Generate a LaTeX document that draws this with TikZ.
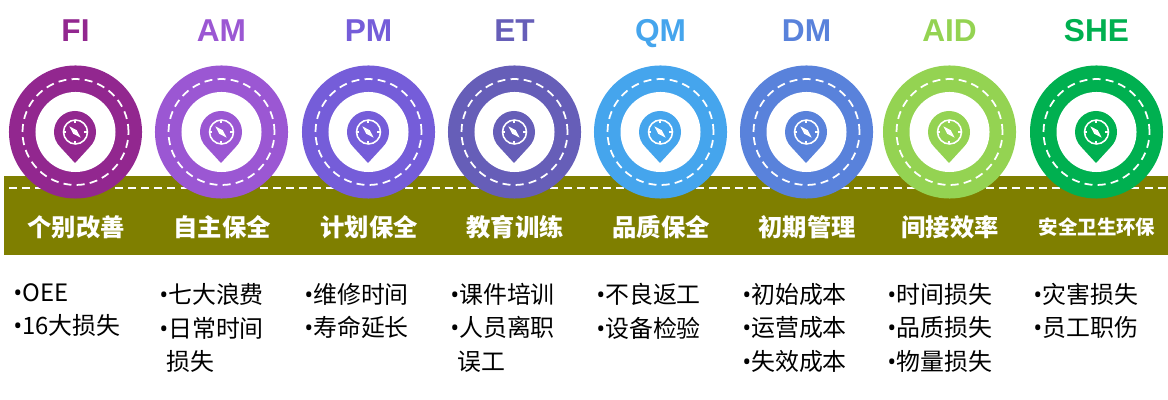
\documentclass[tikz,border=0pt]{standalone}
\usepackage{fontspec}
\setmainfont{Noto Sans CJK SC}
\newfontfamily\latinfont{Liberation Sans}
\newfontfamily\dotfont{Open Sans}
\newcommand{\li}{{\dotfont\fontsize{17}{17}\selectfont •}}
\newcommand{\ind}{\hspace*{0.19cm}}
\definecolor{fiC}{HTML}{92278F}
\definecolor{amC}{HTML}{9B57D3}
\definecolor{pmC}{HTML}{755DD9}
\definecolor{etC}{HTML}{665EB8}
\definecolor{qmC}{HTML}{45A5ED}
\definecolor{dmC}{HTML}{5982DB}
\definecolor{aidC}{HTML}{94D352}
\definecolor{sheC}{HTML}{00B050}
\definecolor{bandC}{HTML}{7F7F00}
\tikzset{
  ring/.style={circle, inner sep=0pt, minimum size=3.325cm},
  hole/.style={circle, inner sep=0pt, minimum size=2.0cm, fill=white},
  title/.style={anchor=base, font=\latinfont\bfseries\fontsize{22.5}{24}\selectfont},
  tag/.style={text=white, font=\bfseries\fontsize{#1}{20}\selectfont},
  items/.style={anchor=north west, inner sep=0pt, align=left, font=\fontsize{17}{23.8}\selectfont},
  whitedash/.style={white, line width=1.25pt, dash pattern=on 0.2cm off 0.13cm}
}
\begin{document}
\begin{tikzpicture}[x=0.025cm,y=0.025cm]
\useasboundingbox (0,0) rectangle (1168,400);
\fill[bandC] (4,145) rectangle (1168,224);
\draw[whitedash] (9,212) -- (1168,212);
\foreach \cx/\tx/\nm/\col/\ttl/\lbl/\sz/\lst in {
  75/13/fi/fiC/FI/个别改善/17.3/{\li OEE\\\li 16大损失},
  221/159/am/amC/AM/自主保全/17.3/{\li 七大浪费\\\li 日常时间\\\ind 损失},
  368/304/pm/pmC/PM/计划保全/17.3/{\li 维修时间\\\li 寿命延长},
  514/450/et/etC/ET/教育训练/17.3/{\li 课件培训\\\li 人员离职\\\ind 误工},
  660/596/qm/qmC/QM/品质保全/17.3/{\li 不良返工\\\li 设备检验},
  806/742/dm/dmC/DM/初期管理/17.3/{\li 初始成本\\\li 运营成本\\\li 失效成本},
  949/887/aid/aidC/AID/间接效率/17.3/{\li 时间损失\\\li 品质损失\\\li 物量损失},
  1096/1033/she/sheC/SHE/安全卫生环保/13.8/{\li 灾害损失\\\li 员工职伤}}
{
  \node[title, text=\col] (title\nm) at (\cx+0.5,358) {\ttl};
  \node[ring, fill=\col] (ring\nm) at (\cx+0.5,268) {};
  \draw[whitedash] (ring\nm.center) circle (53);
  \node[hole] (hole\nm) at (ring\nm.center) {};
  % pin with compass
  \fill[\col] (\cx,237) -- ([shift={(\cx,268)}]-45:21) arc (-45:225:21) -- cycle;
  \draw[white, line width=1.1pt] (ring\nm.center) circle (12);
  \foreach \a in {0,90,180,270}
    \draw[white, line width=0.8pt] ([shift={(\cx,268)}]\a:12) -- ([shift={(\cx,268)}]\a:9);
  \fill[white, shift={(\cx,268)}, rotate=-45] (-8,0) -- (0,2.5) -- (8,0) -- (0,-2.5) -- cycle;
  \node[tag=\sz] (tag\nm) at (\cx+1,173) {\lbl};
  \node[items] (list\nm) at (\tx,117) {\lst};
}
\end{tikzpicture}
\end{document}
